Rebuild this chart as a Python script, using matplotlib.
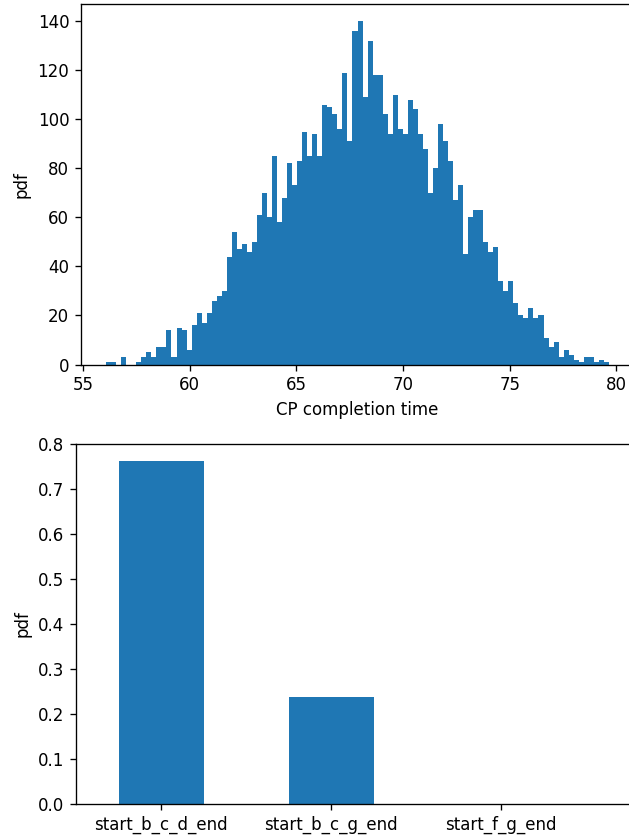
import numpy as np
import matplotlib
matplotlib.use('Agg')
import matplotlib.pyplot as plt

# ---- data: CP completion time histogram (counts per bin) ----
t_lo, t_hi, n_bins = 56.08, 79.65, 100
counts = [1, 1, 0, 3, 0, 0, 1, 3, 5, 3, 7, 7, 14, 3, 15, 14, 6, 16, 21, 17,
          21, 26, 28, 30, 44, 54, 47, 49, 46, 50, 61, 70, 60, 85, 58,
          68, 82, 73, 83, 95, 85, 94, 85, 106, 105, 102, 96, 119, 91, 136,
          140, 109, 132, 118, 118, 102, 94, 110, 96, 94, 108, 104, 94, 88, 70,
          80, 98, 91, 83, 67, 73,
          45, 60, 63, 63, 50, 46, 48, 34, 30, 34, 25, 20, 19, 23, 19, 20, 11,
          7, 9, 3, 6, 4, 2, 1, 3, 3, 1, 2, 1]

# ---- data: critical path probabilities ----
paths = ['start_b_c_d_end', 'start_b_c_g_end', 'start_f_g_end']
path_pdf = [0.762, 0.238, 0.0]

DPI = 120
W, H = 629, 840
fig = plt.figure(figsize=(W / DPI, H / DPI), dpi=DPI)

def px_axes(l, r, t, b):
    return fig.add_axes([l / W, 1 - b / H, (r - l) / W, (b - t) / H])

# top: histogram
ax1 = px_axes(81, 634, 4, 364.5)
edges = np.linspace(t_lo, t_hi, n_bins + 1)
centers = (edges[:-1] + edges[1:]) / 2
ax1.hist(centers, bins=edges, weights=counts, color='#1f77b4')
ax1.set_xlabel('CP completion time')
ax1.set_ylabel('pdf')
ax1.set_xticks([55, 60, 65, 70, 75, 80])

# bottom: bar chart of path probabilities
ax2 = px_axes(76, 634, 444, 803.7)
x = np.arange(len(paths))
ax2.bar(x, path_pdf, width=0.5, color='#1f77b4')
ax2.set_xticks(x)
ax2.set_xticklabels(paths)
ax2.set_xlim(-0.5, 2.78)
ax2.set_ylim(0, 0.8)
ax2.set_ylabel('pdf')

fig.savefig('out.png', dpi=DPI)
